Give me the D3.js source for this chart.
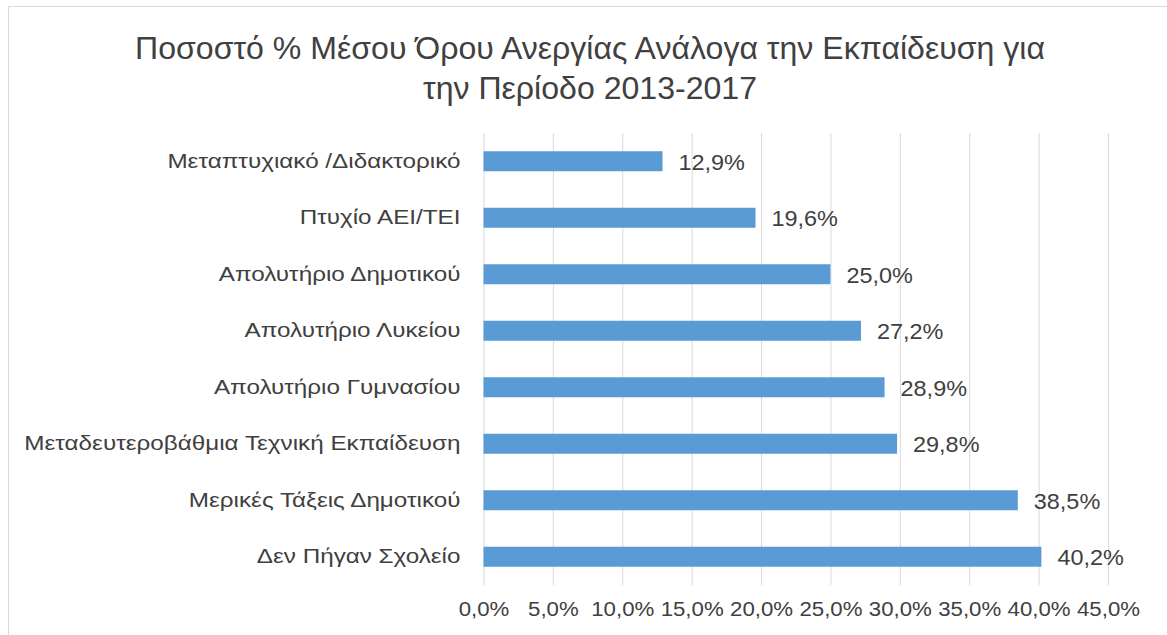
<!DOCTYPE html>
<html>
<head>
<meta charset="utf-8">
<script src="https://cdn.jsdelivr.net/npm/d3@7"></script>
<style>
  body { margin: 0; background: #fff; }
  svg { display: block; font-family: "Liberation Sans", Arial, sans-serif; }
</style>
</head>
<body>
<div class="plot-container"></div>
<script>
// chart data
const categories = [
  "Μεταπτυχιακό /Διδακτορικό",
  "Πτυχίο ΑΕΙ/ΤΕΙ",
  "Απολυτήριο Δημοτικού",
  "Απολυτήριο Λυκείου",
  "Απολυτήριο Γυμνασίου",
  "Μεταδευτεροβάθμια Τεχνική Εκπαίδευση",
  "Μερικές Τάξεις Δημοτικού",
  "Δεν Πήγαν Σχολείο"
];
const values = [12.9, 19.6, 25.0, 27.2, 28.9, 29.8, 38.5, 40.2];
const xTicks = [0, 5, 10, 15, 20, 25, 30, 35, 40, 45];
const titleLines = [
  "Ποσοστό % Μέσου Όρου Ανεργίας Ανάλογα την Εκπαίδευση για",
  "την Περίοδο 2013-2017"
];

const W = 1167, H = 635;
const plot = { left: 483.5, right: 1108, top: 133, bottom: 585 };
const textColor = "#404040";
const gridColor = "#d9d9d9";
const barColor = "#5b9bd5";

const fmt = (v) => v.toFixed(1).replace(".", ",") + "%";

const svg = d3.select("div.plot-container")
  .append("svg")
  .attr("width", W)
  .attr("height", H);

// outer chart border (runs off the right and bottom edges)
svg.append("rect")
  .attr("x", 8.5).attr("y", 6.5)
  .attr("width", W + 20).attr("height", H + 20)
  .attr("fill", "#fff")
  .attr("stroke", gridColor);

// *************************************
// SCALES
// *************************************
let x = d3.scaleLinear()
  .domain([0, 45])
  .range([plot.left, plot.right]);

let y = d3.scaleBand()
  .domain(categories)
  .range([plot.top, plot.bottom])
  .paddingInner(0.646)
  .paddingOuter(0.323);

// title (text in the original is slightly wide, so stretch a little)
svg.append("g")
  .selectAll("text")
  .data(titleLines)
  .join("text")
  .attr("transform", (d, i) => `translate(590, ${59 + i * 40}) scale(1.035, 1)`)
  .attr("text-anchor", "middle")
  .attr("font-size", 31)
  .attr("fill", textColor)
  .text(d => d);

// gridlines + tick labels via axis
const xAxis = d3.axisBottom(x)
  .tickValues(xTicks)
  .tickSize(plot.bottom - plot.top)
  .tickFormat(fmt);

const gx = svg.append("g")
  .attr("transform", `translate(0, ${plot.top})`)
  .call(xAxis);
gx.select(".domain").remove();
gx.selectAll(".tick line").attr("stroke", gridColor);
gx.selectAll(".tick text")
  .attr("y", 0)
  .attr("dy", 0)
  .attr("transform", `translate(0, ${plot.bottom - plot.top + 31}) scale(1.06, 1)`)
  .attr("font-size", 21)
  .attr("font-family", "Liberation Sans, Arial, sans-serif")
  .attr("fill", textColor);

// category labels via left axis
const gy = svg.append("g")
  .attr("transform", `translate(${plot.left - 23}, 0)`)
  .call(d3.axisLeft(y).tickSize(0).tickPadding(0));
gy.select(".domain").remove();
gy.selectAll(".tick text")
  .attr("x", 0)
  .attr("transform", "scale(1.155, 1)")
  .attr("font-size", 21)
  .attr("font-family", "Liberation Sans, Arial, sans-serif")
  .attr("fill", textColor);

// bars
svg.append("g")
  .selectAll("rect")
  .data(values)
  .join("rect")
  .attr("x", x(0))
  .attr("y", (d, i) => y(categories[i]))
  .attr("width", d => x(d) - x(0))
  .attr("height", y.bandwidth())
  .attr("fill", barColor);

// value labels
svg.append("g")
  .selectAll("text")
  .data(values)
  .join("text")
  .attr("transform", (d, i) =>
    `translate(${x(d) + 16}, ${y(categories[i]) + y.bandwidth() / 2 + 1}) scale(1.065, 1)`)
  .attr("dy", "0.35em")
  .attr("font-size", 22)
  .attr("fill", textColor)
  .text(fmt);
</script>
</body>
</html>
